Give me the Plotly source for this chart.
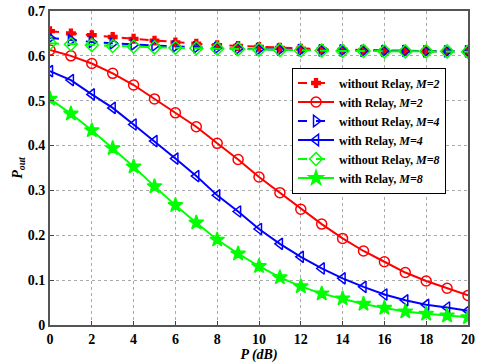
"""Outage probability vs transmit power, with and without relay."""

import plotly.graph_objects as go

p_db = list(range(0, 21))

no_relay_m2 = [0.655, 0.650, 0.646, 0.642, 0.638, 0.634, 0.630, 0.627, 0.624, 0.622, 0.620,
               0.618, 0.616, 0.615, 0.614, 0.613, 0.612, 0.611, 0.611, 0.610, 0.610]
relay_m2 = [0.613, 0.600, 0.583, 0.561, 0.535, 0.504, 0.473, 0.442, 0.405, 0.369, 0.330,
            0.295, 0.258, 0.225, 0.193, 0.165, 0.141, 0.117, 0.098, 0.082, 0.066]
no_relay_m4 = [0.640, 0.635, 0.631, 0.628, 0.625, 0.623, 0.621, 0.619, 0.618, 0.616, 0.615,
               0.614, 0.613, 0.612, 0.612, 0.611, 0.611, 0.611, 0.610, 0.610, 0.610]
relay_m4 = [0.566, 0.546, 0.514, 0.484, 0.447, 0.410, 0.371, 0.332, 0.289, 0.253, 0.214,
            0.181, 0.152, 0.126, 0.104, 0.085, 0.068, 0.055, 0.045, 0.039, 0.032]
no_relay_m8 = [0.628, 0.626, 0.624, 0.622, 0.621, 0.619, 0.618, 0.617, 0.616, 0.615, 0.614,
               0.613, 0.612, 0.612, 0.611, 0.611, 0.610, 0.610, 0.610, 0.610, 0.609]
relay_m8 = [0.504, 0.471, 0.434, 0.394, 0.353, 0.309, 0.267, 0.228, 0.190, 0.159, 0.131,
            0.106, 0.086, 0.070, 0.059, 0.047, 0.038, 0.030, 0.025, 0.021, 0.017]

x_ticks = [0, 2, 4, 6, 8, 10, 12, 14, 16, 18, 20]
y_ticks = [0, 0.1, 0.2, 0.3, 0.4, 0.5, 0.6, 0.7]
y_labels = ["0", "0.1", "0.2", "0.3", "0.4", "0.5", "0.6", "0.7"]

RED = "#ff0000"
BLUE = "#0000ff"
GREEN = "#00ff00"

# name, values, colour, dash, marker symbol, marker size
series = [
    ("without Relay, <i>M=2</i>", no_relay_m2, RED, "dash", "cross", 7),
    ("with Relay, <i>M=2</i>", relay_m2, RED, "solid", "circle-open", 10),
    ("without Relay, <i>M=4</i>", no_relay_m4, BLUE, "dash", "triangle-right-open", 10),
    ("with Relay, <i>M=4</i>", relay_m4, BLUE, "solid", "triangle-left-open", 10),
    ("without Relay, <i>M=8</i>", no_relay_m8, GREEN, "dash", "diamond-open", 10),
    ("with Relay, <i>M=8</i>", relay_m8, GREEN, "solid", "star", 11),
]

fig = go.Figure()
for name, vals, color, dash, symbol, msize in series:
    fig.add_trace(go.Scatter(
        x=p_db, y=vals, name=name, mode="lines+markers",
        line=dict(color=color, width=2, dash=dash),
        marker=dict(symbol=symbol, size=msize, color=color,
                    line=dict(color=color, width=1.5)),
    ))

axis_font = dict(family="Liberation Serif", size=14, color="black", weight="bold")

fig.update_layout(
    width=498, height=363,
    margin=dict(l=50, r=30, t=11, b=38),
    paper_bgcolor="white", plot_bgcolor="white",
    font=dict(family="Liberation Serif", size=14, color="black", weight="bold"),
    showlegend=True,
    legend=dict(
        x=0.579, y=0.82, xanchor="left", yanchor="top",
        bordercolor="black", borderwidth=1, bgcolor="white",
        font=dict(family="Liberation Serif", size=12, color="black", weight="bold"),
        tracegroupgap=0, itemwidth=36,
    ),
)

fig.update_xaxes(
    range=[0, 20], tickvals=x_ticks, ticks="inside", ticklen=4,
    showline=True, linecolor="#555555", linewidth=2, mirror=True,
    showgrid=True, gridcolor="#aaaaaa", griddash="dot", gridwidth=1,
    zeroline=False, tickfont=axis_font, automargin=False,
    title=dict(text="<i>P (dB)</i>", font=axis_font, standoff=2),
)
fig.update_yaxes(
    range=[0, 0.7], tickvals=y_ticks, ticktext=y_labels,
    ticks="inside", ticklen=4,
    showline=True, linecolor="#555555", linewidth=2, mirror=True,
    showgrid=True, gridcolor="#aaaaaa", griddash="dot", gridwidth=1,
    zeroline=False, tickfont=axis_font, automargin=False,
    title=dict(text="<i>P<sub>out</sub></i>", font=axis_font, standoff=2),
)

# drop the default 8px body margin so the figure fills the window exactly
fig.write_html("out.html", config={"displayModeBar": False},
               post_script="document.body.style.margin='0';")
